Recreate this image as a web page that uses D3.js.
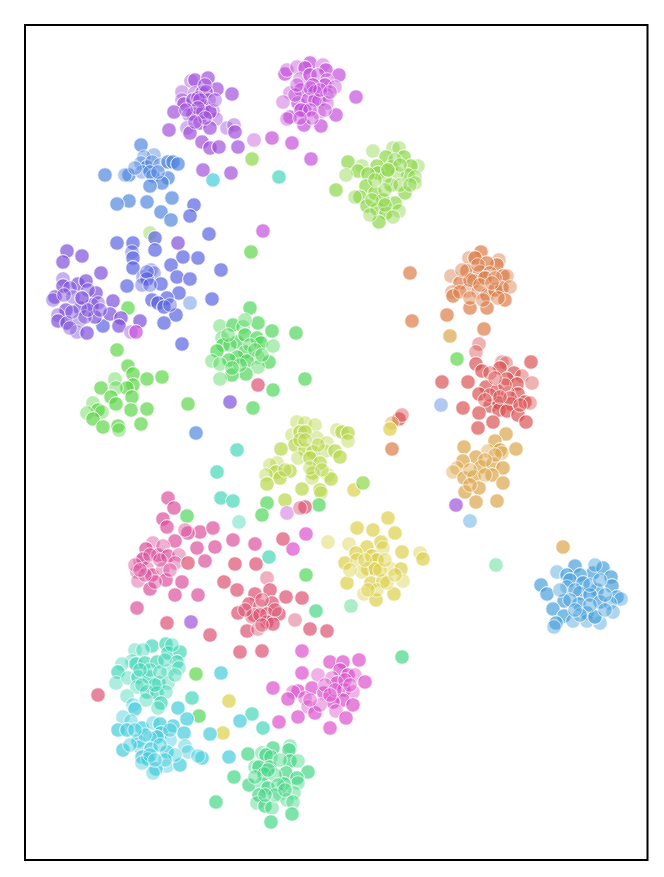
<!DOCTYPE html>
<html>
<head>
<meta charset="utf-8">
<script src="https://cdn.jsdelivr.net/npm/d3@7"></script>
<style>
  html, body { margin: 0; background: #fff; }
  svg { display: block; }
</style>
</head>
<body>
<svg></svg>
<script>
// each row is [x, y, n], n = how many samples sit on that spot
const orange = [[481,252,2],[469,258,1],[475,258,2],[499,260,1],[497,265,2],[487,263,2],[467,271,2],[451,276,1],[480,272,2],[490,273,1],[503,276,2],[507,276,1],[460,283,2],[474,281,2],[485,278,2],[452,292,1],[453,296,2],[467,291,1],[478,292,1],[487,295,2],[495,290,2],[502,288,2],[510,287,1],[505,300,2],[470,308,2],[487,308,2],[447,315,2],[410,273,2],[412,321,2],[484,329,2],[392,449,2],[470,280,1],[478,265,1],[495,278,1],[460,292,1],[470,298,1],[480,285,1],[492,283,1],[498,298,1],[483,300,1],[462,270,1]];
const red = [[479,344,1],[476,352,1],[531,362,2],[476,364,2],[502,362,1],[506,363,1],[500,368,2],[482,371,2],[490,373,1],[514,373,2],[522,376,1],[442,382,2],[468,382,2],[507,379,2],[486,387,2],[532,383,1],[497,391,2],[517,384,2],[479,394,2],[518,394,2],[508,393,1],[525,402,2],[530,403,1],[490,406,2],[499,403,2],[511,404,2],[463,408,2],[479,413,2],[499,410,2],[507,411,2],[518,415,2],[493,422,2],[526,422,2],[478,428,2],[399,419,2],[402,415,1],[505,385,1],[495,378,1],[510,398,1],[490,395,1],[520,405,1],[500,397,1],[485,400,1]];
const gold = [[506,434,2],[495,441,2],[464,447,2],[488,451,1],[500,450,2],[502,453,1],[516,449,2],[476,457,2],[463,461,2],[457,468,1],[453,472,1],[481,467,2],[493,464,2],[503,468,2],[464,478,2],[474,477,2],[492,475,2],[503,483,2],[479,488,2],[465,492,2],[476,502,2],[497,501,2],[563,547,2],[450,336,2],[392,423,1],[470,470,1],[485,475,1],[495,455,1],[485,460,1],[470,485,1]];
const yellow = [[388,518,2],[357,528,2],[373,530,2],[395,533,2],[328,542,1],[349,544,1],[367,547,2],[381,542,2],[383,548,1],[356,553,2],[402,552,2],[420,553,1],[423,559,2],[345,563,2],[357,560,1],[372,556,2],[377,560,2],[368,569,2],[375,569,2],[362,572,1],[391,569,1],[401,569,2],[347,583,2],[371,583,2],[383,581,2],[403,581,1],[394,594,2],[364,594,1],[376,600,2],[377,590,1],[387,583,1],[354,490,2],[390,429,2],[229,701,2],[223,733,2],[365,560,1],[380,570,1],[350,570,1],[385,560,1],[368,590,1],[395,575,1]];
const lime = [[297,422,1],[305,423,1],[315,425,1],[292,435,1],[300,432,2],[305,432,2],[337,430,1],[342,432,2],[348,433,2],[348,441,1],[317,438,1],[295,445,2],[281,449,2],[327,443,1],[305,450,2],[313,452,2],[325,451,1],[335,451,2],[340,457,2],[298,458,1],[310,458,2],[320,463,2],[290,471,2],[277,463,1],[270,465,1],[276,472,2],[280,478,2],[266,475,1],[267,484,2],[313,473,2],[312,478,1],[328,475,1],[331,479,2],[302,489,2],[320,490,2],[321,493,1],[285,500,2],[300,440,1],[318,445,1],[310,468,1],[285,470,1],[305,440,1],[322,470,1]];
const leaf = [[373,151,1],[393,148,1],[399,148,1],[386,157,2],[404,157,2],[348,162,2],[362,166,1],[358,171,2],[346,175,1],[377,166,2],[391,167,2],[418,166,1],[411,166,2],[378,173,2],[368,174,2],[408,175,2],[415,177,1],[415,183,1],[397,173,1],[391,185,2],[366,186,2],[375,193,2],[405,193,2],[360,197,2],[355,197,1],[336,190,2],[367,206,2],[395,203,2],[377,209,2],[386,213,2],[399,211,1],[393,217,1],[379,222,2],[383,200,2],[252,159,2],[363,483,2],[150,233,1],[385,178,1],[400,185,1],[375,180,1],[395,160,1],[385,190,1],[400,165,1],[372,200,1],[385,205,1],[410,185,1],[370,215,1],[388,170,2]];
const grass = [[117,350,2],[128,366,2],[133,374,2],[147,379,2],[162,377,2],[115,379,1],[133,385,2],[127,388,2],[116,388,1],[101,388,2],[111,397,2],[132,397,2],[116,404,2],[93,403,1],[98,410,2],[87,413,1],[102,412,1],[93,419,2],[131,410,2],[147,409,2],[103,427,2],[118,426,2],[119,430,1],[141,424,2],[188,404,2],[128,308,2],[251,252,2],[457,359,2],[196,674,2]];
const green = [[250,308,2],[258,323,2],[272,331,2],[296,333,2],[220,326,1],[233,325,2],[243,327,1],[222,338,1],[237,342,2],[223,345,2],[245,335,2],[257,338,2],[261,343,2],[273,346,1],[217,351,2],[245,352,2],[237,357,2],[229,360,2],[212,361,1],[220,364,1],[258,357,1],[269,362,2],[247,361,2],[258,367,1],[246,374,2],[232,375,2],[220,379,1],[273,390,2],[305,379,2],[253,408,2],[267,503,2],[262,515,2],[319,505,2],[187,516,2],[306,575,2],[199,716,2],[230,345,1],[250,345,1],[240,365,1],[228,335,1],[255,350,1],[232,368,1],[245,320,1],[262,355,1]];
const sea = [[248,754,2],[262,753,1],[273,748,2],[290,746,1],[289,750,2],[266,755,2],[271,757,1],[290,761,2],[298,761,1],[255,767,1],[259,767,2],[270,767,2],[264,774,2],[308,772,2],[286,773,2],[297,778,2],[298,783,1],[234,777,2],[249,785,2],[284,784,2],[262,784,1],[268,788,2],[294,793,1],[280,794,1],[259,795,2],[287,800,1],[293,802,1],[257,803,1],[265,806,2],[272,808,1],[216,802,2],[292,814,2],[271,822,2],[316,611,2],[351,606,1],[402,657,2],[496,565,1],[275,775,1],[278,785,1],[268,770,1],[275,795,1],[265,795,1],[280,760,1],[255,777,1],[285,790,1]];
const teal = [[152,646,2],[135,650,1],[143,650,1],[166,644,2],[168,653,2],[180,652,2],[132,661,1],[122,664,1],[136,664,2],[145,663,2],[157,662,2],[177,662,2],[118,672,2],[168,671,1],[179,668,1],[116,683,1],[128,678,1],[138,677,2],[149,677,2],[137,687,1],[159,683,2],[168,683,1],[127,696,1],[147,692,2],[157,693,2],[166,692,1],[146,700,1],[161,703,2],[158,708,1],[192,698,2],[252,714,2],[263,728,2],[279,177,2],[237,450,2],[217,472,2],[221,498,2],[233,501,2],[239,522,1],[269,557,2],[150,670,1],[160,672,1],[165,660,1],[140,670,1],[155,685,1],[175,675,1],[142,685,1],[172,645,1]];
const cyan = [[133,705,1],[135,709,2],[123,717,1],[131,721,1],[118,730,2],[127,730,2],[178,708,2],[187,719,2],[173,726,2],[142,728,2],[153,723,1],[160,724,2],[161,733,2],[184,733,2],[170,740,1],[157,737,2],[138,741,2],[150,738,1],[210,734,2],[140,747,1],[123,750,2],[151,749,2],[185,746,1],[167,752,2],[188,752,1],[142,757,2],[148,759,2],[202,758,2],[198,756,1],[142,763,1],[167,766,1],[180,765,2],[156,769,2],[153,773,1],[229,757,2],[221,673,2],[240,721,2],[213,180,2],[150,755,1],[160,745,1],[145,735,1],[170,730,1],[175,755,1],[135,730,1],[165,760,1],[155,760,1],[130,745,1]];
const sky = [[557,572,1],[575,566,2],[593,573,2],[603,568,2],[567,575,2],[580,575,2],[570,580,2],[611,577,2],[541,585,2],[567,587,1],[583,583,2],[597,590,2],[612,586,2],[547,594,2],[580,593,2],[590,595,2],[617,597,2],[621,599,1],[564,601,2],[600,602,2],[579,604,2],[610,603,1],[553,609,2],[613,612,1],[564,616,2],[587,613,2],[573,621,1],[587,621,1],[600,623,1],[556,623,2],[554,627,1],[595,617,2],[470,521,1],[575,590,1],[590,585,1],[605,595,1],[570,600,1],[590,605,1],[580,615,1],[600,580,1],[595,565,1],[605,610,1],[560,590,1],[575,610,1]];
const blue = [[141,145,2],[105,175,2],[129,175,2],[125,175,1],[154,155,1],[144,157,1],[141,163,1],[147,167,2],[152,162,1],[160,165,1],[168,162,2],[173,162,2],[178,164,2],[142,172,1],[153,176,2],[168,178,2],[162,183,2],[150,186,2],[172,198,2],[129,201,2],[117,204,2],[147,202,2],[161,212,2],[171,220,2],[190,303,1],[196,433,2],[441,405,1],[150,172,1],[158,172,1],[135,168,1]];
const indigo = [[194,205,2],[190,216,2],[209,234,2],[117,243,2],[133,243,2],[155,238,2],[155,250,2],[132,252,1],[133,258,2],[133,268,2],[183,257,2],[198,258,2],[171,265,2],[177,277,2],[190,279,2],[221,270,2],[151,270,1],[154,273,1],[143,277,1],[147,279,2],[142,285,1],[161,284,2],[127,286,2],[179,293,2],[152,300,2],[167,298,2],[158,303,2],[164,307,2],[176,315,2],[164,323,2],[212,299,2],[182,344,2],[103,326,2],[147,272,1],[150,285,1],[170,305,1]];
const violet = [[67,251,2],[82,256,2],[63,262,2],[101,273,2],[63,279,1],[63,286,2],[78,284,2],[86,281,2],[70,288,1],[96,293,2],[55,297,2],[53,300,1],[113,301,2],[92,305,2],[80,308,2],[66,310,2],[73,297,1],[98,303,1],[58,315,1],[58,321,2],[67,323,2],[80,320,1],[95,317,2],[85,317,1],[110,314,2],[121,318,2],[119,326,2],[140,321,2],[77,332,1],[87,333,2],[178,243,2],[230,402,2],[88,290,1],[64,295,1],[82,298,2],[88,310,1],[100,310,1],[72,312,1],[70,328,1]];
const purple = [[191,81,1],[195,80,2],[208,78,2],[217,89,2],[232,94,2],[182,92,1],[195,93,1],[202,93,2],[206,92,2],[182,100,1],[184,104,2],[193,100,2],[209,100,1],[204,106,2],[174,112,2],[193,114,2],[189,115,1],[213,111,1],[200,123,2],[216,119,1],[187,128,1],[190,133,2],[210,128,2],[227,128,1],[234,125,1],[235,132,2],[169,130,2],[202,142,2],[210,148,2],[219,147,2],[238,147,2],[203,170,2],[231,173,2],[198,98,1],[203,112,2],[131,332,1],[456,505,2],[191,622,2],[200,100,1],[210,112,2],[198,108,1],[186,110,1],[215,100,1],[205,118,1],[195,122,1],[205,85,1]];
const magenta = [[285,74,2],[287,70,1],[297,67,1],[310,63,2],[323,65,1],[326,70,2],[305,68,2],[339,75,2],[300,79,1],[310,75,2],[318,75,1],[327,80,1],[325,85,2],[335,87,1],[290,93,1],[301,90,2],[313,85,2],[315,92,2],[283,102,1],[298,103,2],[308,100,2],[319,101,2],[327,95,1],[327,103,1],[290,117,2],[287,119,1],[305,111,2],[301,110,2],[319,113,1],[336,115,2],[304,125,2],[321,126,2],[356,97,2],[272,138,2],[292,143,2],[311,159,2],[254,140,1],[263,231,2],[136,332,2],[287,513,1],[315,100,1],[310,110,1],[320,90,1],[295,95,1],[310,88,1],[297,85,1],[325,110,1],[312,118,1],[300,118,1],[330,92,1]];
const pink = [[302,651,2],[330,662,2],[343,662,2],[359,660,2],[302,673,2],[318,675,1],[340,670,2],[348,675,2],[355,675,1],[332,678,1],[365,682,2],[273,688,2],[337,683,2],[298,691,2],[293,692,1],[312,688,2],[324,693,2],[344,690,2],[353,692,1],[288,699,2],[305,698,1],[343,700,2],[333,702,2],[353,705,2],[308,707,1],[315,713,2],[336,711,1],[346,718,2],[279,722,2],[298,717,2],[330,728,2],[306,534,2],[293,549,2],[325,685,1],[335,690,1],[345,680,1],[320,705,1],[330,695,1],[310,700,1],[350,685,1]];
const rose = [[168,498,2],[174,508,2],[163,519,2],[167,527,2],[200,532,2],[213,528,2],[188,533,2],[185,530,1],[175,541,2],[153,543,1],[146,549,2],[158,555,2],[163,546,1],[168,556,2],[179,555,1],[197,548,2],[215,547,2],[233,540,2],[255,544,2],[140,562,1],[143,559,2],[175,563,1],[205,561,2],[137,572,1],[147,568,1],[152,575,2],[163,569,1],[138,581,1],[166,580,2],[182,582,2],[150,589,2],[175,595,2],[198,595,2],[137,608,2],[150,555,1],[160,560,1],[135,565,1],[155,582,1],[145,575,1],[170,570,1],[140,570,1]];
const crimson = [[188,563,2],[235,564,2],[256,564,2],[224,582,2],[237,590,2],[267,578,1],[270,590,2],[255,594,2],[286,597,2],[302,598,2],[249,604,2],[272,603,2],[260,606,1],[238,613,2],[254,615,2],[267,614,2],[279,614,2],[252,617,1],[267,622,2],[273,624,2],[295,620,1],[247,631,2],[258,629,1],[310,629,2],[327,631,2],[167,623,2],[210,635,2],[240,652,2],[262,651,2],[98,695,2],[258,385,2],[305,507,2],[300,508,1],[283,539,2],[262,600,1],[260,615,1],[275,610,1],[245,610,1],[262,625,1]];

const clusters = [orange, red, gold, yellow, lime, leaf, grass, green, sea, teal, cyan, sky, blue, indigo, violet, purple, magenta, pink, rose, crimson];
const colors = ["#db7843", "#db5050", "#dba446", "#dacf46", "#b6d646", "#8bd646", "#5cd647", "#4ed658", "#43d683", "#43d6b6", "#43cbdb", "#46a0db", "#4e83e0", "#5660e0", "#7b4edb", "#a04edb", "#c34edb", "#db4ecb", "#db4e9b", "#db4e6e"];

let width = 664, height = 877;
let margin = {top: 25, right: 16.5, bottom: 17, left: 25};
let svg = d3.select("svg").attr("width", width).attr("height", height);

let x = d3.scaleLinear().domain([25, 647.5]).range([margin.left, width - margin.right]);
let y = d3.scaleLinear().domain([25, 860]).range([margin.top, height - margin.bottom]);
let color = d3.scaleOrdinal().domain(d3.range(clusters.length)).range(colors);

// one record per sample, so stacked samples get darker
let samples = clusters.flatMap((c, i) => c.flatMap(d => d3.range(d[2]).map(() => ({x: d[0], y: d[1], cluster: i}))));

svg.append("g")
  .selectAll("circle")
  .data(samples)
  .enter().append("circle")
  .attr("cx", d => x(d.x))
  .attr("cy", d => y(d.y))
  .attr("r", 7.3)
  .attr("fill", d => color(d.cluster))
  .attr("fill-opacity", 0.44)
  .attr("stroke", "#fff")
  .attr("stroke-opacity", 0.7)
  .attr("stroke-width", 1);

svg.append("rect")
  .attr("x", x.range()[0])
  .attr("y", y.range()[0])
  .attr("width", x.range()[1] - x.range()[0])
  .attr("height", y.range()[1] - y.range()[0])
  .attr("fill", "none")
  .attr("stroke", "#000")
  .attr("stroke-width", 2);
</script>
</body>
</html>
